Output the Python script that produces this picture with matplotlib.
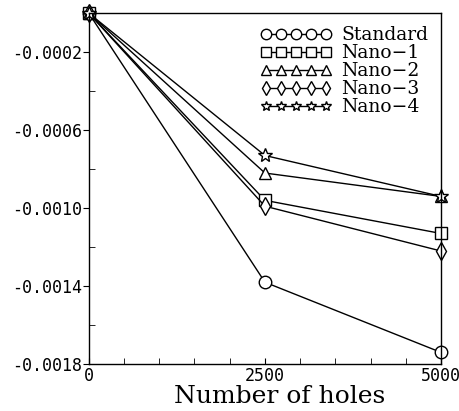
import numpy as np
from matplotlib import pyplot as plt
from matplotlib.ticker import MultipleLocator

# data
holes = [0, 2500, 5000]
standard = [0.0, -0.00138, -0.00174]
nano1 = [0.0, -0.00096, -0.00113]
nano2 = [0.0, -0.00082, -0.00094]
nano3 = [0.0, -0.00099, -0.00122]
nano4 = [0.0, -0.00073, -0.00094]

series = [("Standard", standard, "o"),
          ("Nano\u22121", nano1, "s"),
          ("Nano\u22122", nano2, "^"),
          ("Nano\u22123", nano3, "d"),
          ("Nano\u22124", nano4, "*")]
msizes = {"o": 9, "s": 8, "^": 8, "d": 9, "*": 10}

fig = plt.figure(figsize=(4.6, 4.11), dpi=100)
ax = fig.add_axes([0.193, 0.114, 0.766, 0.854])

for name, vals, m in series:
    ax.plot(holes, vals, color="black", lw=1.0, marker=m, ms=msizes[m],
            mfc="white", mec="black", mew=1.0, label=name, clip_on=False)

ax.set_xlim(0, 5000)
ax.set_ylim(-0.0018, 0.0)
ax.set_xticks([0, 2500, 5000])
ax.set_xticklabels(["0", "2500", "5000"], family="DejaVu Sans Mono", fontsize=12)
ax.xaxis.set_minor_locator(MultipleLocator(500))
yt = [-0.0018, -0.0014, -0.0010, -0.0006, -0.0002]
ax.set_yticks(yt)
ax.set_yticklabels(["%.4f" % v for v in yt], family="DejaVu Sans Mono", fontsize=12)
ax.yaxis.set_minor_locator(MultipleLocator(0.0002))
ax.tick_params(axis="x", which="both", direction="in", length=4, pad=2)
ax.tick_params(axis="y", which="major", direction="out", length=4, pad=1)
ax.tick_params(axis="y", which="minor", direction="in", length=4)
for s in ax.spines.values():
    s.set_linewidth(1.0)

ax.set_xlabel("Number of holes", family="DejaVu Serif", fontsize=18)
ax.xaxis.set_label_coords(0.543, -0.06)

leg = ax.legend(loc="upper right", frameon=False, numpoints=5, handlelength=3.8,
                handletextpad=0.5, labelspacing=0.0, borderaxespad=0.4,
                borderpad=0.3, prop={"family": "DejaVu Serif", "size": 13.5})
for h in leg.legend_handles:
    h.set_markersize(7.5)

fig.savefig("out.png", dpi=100)
